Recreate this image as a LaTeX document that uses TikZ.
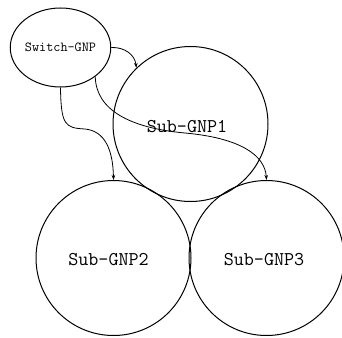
\documentclass[tikz,border=0pt]{standalone}
\usetikzlibrary{shapes.geometric,arrows.meta}
\begin{document}
\begin{tikzpicture}[x=1pt,y=-1pt,
  circ/.style={draw,circle,line width=1pt,minimum size=155pt,inner sep=0pt},
  ell/.style={draw,ellipse,line width=1pt,minimum width=95pt,minimum height=79pt,inner sep=0pt,font=\ttfamily\fontsize{13.8}{16}\selectfont},
  lbl/.style={font=\ttfamily\fontsize{19.5}{22}\selectfont,inner sep=0pt},
  conn/.style={line width=0.8pt,-{Stealth[length=5pt,width=3.5pt]}}]
\useasboundingbox (0,0) rectangle (342,337);
\node[circ] (c1) at (190.5,124) {};
\node[circ] (c2) at (113.5,258) {};
\node[circ] (c3) at (266.5,258) {};
\node[ell] (s) at (60.5,47.5) {Switch-GNP};
\node[lbl] (t1) at (187,127) {Sub-GNP1};
\node[lbl] (t2) at (108.5,260) {Sub-GNP2};
\node[lbl] (t3) at (264,260) {Sub-GNP3};
\draw[conn] (s.east) .. controls (125,47) and (135,55) .. (c1.134);
\draw[conn] (s.south) .. controls (61,125) and (65,128) .. (85,129) .. controls (105,131) and (113,150) .. (c2.north);
\draw[conn] (s.-40) .. controls (96,110) and (130,128) .. (185,133) .. controls (240,138) and (265,155) .. (c3.north);
\end{tikzpicture}
\end{document}
